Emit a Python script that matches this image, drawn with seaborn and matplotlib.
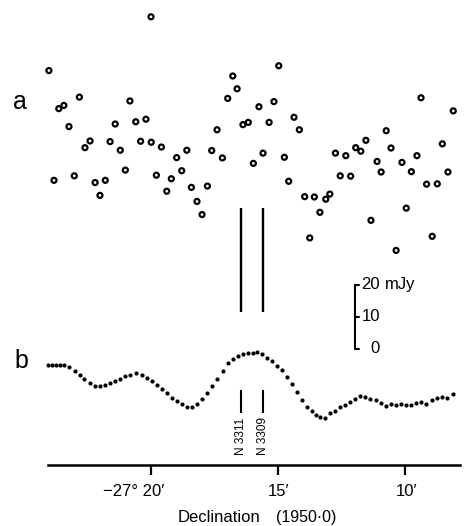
import numpy as np
import pandas as pd
import matplotlib
matplotlib.use("Agg")
import matplotlib.pyplot as plt
import seaborn as sns

# ---------------- data (declination offset in arcmin from -27 deg, flux in mJy) -------------
dec_a = [-24.02, -23.82, -23.63, -23.43, -23.23, -23.02, -22.82, -22.60, -22.40, -22.20,
         -22.01, -21.80, -21.61, -21.41, -21.21, -21.01, -20.83, -20.60, -20.41, -20.20,
         -20.00, -19.99, -19.79, -19.59, -19.38, -19.20, -18.99, -18.79, -18.59, -18.41,
         -18.19, -17.99, -17.78, -17.61, -17.40, -17.19, -16.98, -16.78, -16.61, -16.38,
         -16.17, -15.97, -15.75, -15.59, -15.35, -15.16, -14.97, -14.75, -14.58, -14.37,
         -14.16, -13.95, -13.75, -13.57, -13.35, -13.12, -12.96, -12.74, -12.55, -12.33,
         -12.14, -11.94, -11.74, -11.54, -11.34, -11.10, -10.94, -10.74, -10.55, -10.35,
         -10.12, -9.95, -9.75, -9.53, -9.37, -9.15, -8.93, -8.73, -8.53, -8.31, -8.10]
flux_a = [59.2, 24.9, 47.3, 48.3, 41.7, 26.3, 50.9, 35.1, 37.2, 24.2,
          20.2, 24.9, 37.0, 42.5, 34.3, 28.1, 49.7, 43.2, 37.1, 44.0,
          76.0, 36.8, 26.5, 35.3, 21.5, 25.4, 32.0, 27.9, 34.3, 22.7,
          18.3, 14.2, 23.1, 34.2, 40.7, 31.9, 50.5, 57.5, 53.5, 42.3,
          43.0, 30.2, 47.9, 33.4, 43.0, 49.5, 60.7, 32.1, 24.6, 44.6,
          40.7, 19.8, 6.9, 19.7, 14.9, 19.0, 20.6, 33.4, 26.3, 32.6,
          26.2, 35.1, 34.0, 37.4, 12.4, 30.8, 27.5, 40.4, 35.0, 3.0,
          30.5, 16.2, 27.6, 32.6, 50.7, 23.7, 7.4, 23.8, 36.3, 27.5, 46.6]

dec_b = [-24.06, -23.90, -23.74, -23.58, -23.43, -23.22, -23.00, -22.81, -22.63, -22.40,
         -22.20, -22.01, -21.82, -21.61, -21.42, -21.22, -21.01, -20.81, -20.59, -20.37,
         -20.17, -19.97, -19.78, -19.58, -19.38, -19.17, -18.99, -18.78, -18.57, -18.39,
         -18.20, -18.00, -17.81, -17.60, -17.39, -17.18, -16.96, -16.76, -16.56, -16.37,
         -16.17, -16.00, -15.81, -15.63, -15.43, -15.24, -15.04, -14.84, -14.65, -14.45,
         -14.25, -14.06, -13.86, -13.66, -13.50, -13.35, -13.15, -12.95, -12.76, -12.56,
         -12.36, -12.17, -11.97, -11.77, -11.57, -11.38, -11.14, -10.94, -10.76, -10.56,
         -10.35, -10.16, -9.96, -9.76, -9.57, -9.37, -9.17, -8.95, -8.75, -8.56, -8.33, -8.12]
flux_b = [17.2, 17.1, 17.1, 17.2, 17.2, 16.5, 15.4, 14.1, 12.9, 11.5,
          10.6, 10.6, 10.8, 11.5, 12.2, 12.7, 13.8, 14.0, 14.8, 14.0,
          13.2, 12.2, 10.8, 9.7, 8.4, 6.8, 6.0, 5.1, 4.2, 4.0,
          4.9, 6.5, 8.3, 10.6, 12.8, 15.3, 17.7, 19.0, 20.0, 20.6,
          21.0, 21.0, 21.2, 20.5, 19.5, 18.3, 17.0, 15.6, 13.4, 11.3,
          8.8, 6.3, 4.2, 2.8, 1.6, 0.8, 0.6, 2.1, 2.9, 4.0,
          4.8, 5.7, 6.5, 7.5, 7.3, 6.5, 6.3, 5.4, 4.5, 4.9,
          4.8, 4.9, 4.6, 4.7, 5.2, 5.6, 5.0, 6.3, 6.8, 7.1, 7.0, 8.0]

galaxies = ["N 3311", "N 3309"]
galaxy_dec = [-16.46, -15.59]

tick_pos = [-20, -15, -10]
tick_labels = ["\u221227\u00b0 20\u2032", "15\u2032", "10\u2032"]
scale_values = [0, 10, 20]

# ---------------- layout constants ----------------
OFFSET_A = 27.81     # vertical placement of panel a (mJy units)
OFFSET_B = -22.19    # vertical placement of panel b

sns.set_theme(style="white")
plt.rcParams["font.family"] = ["Liberation Sans", "DejaVu Sans"]
plt.rcParams["text.color"] = "black"

fig = plt.figure(figsize=(4.67, 5.26), dpi=100)
ax = fig.add_axes([48 / 467, 61 / 526, 412 / 467, 465 / 526])
ax.set_xlim(-24.055, -7.835)
ax.set_ylim(-36.25, 109.06)
ax.patch.set_alpha(0)

df_a = pd.DataFrame({"dec": dec_a, "flux": np.array(flux_a) + OFFSET_A})
df_b = pd.DataFrame({"dec": dec_b, "flux": np.array(flux_b) + OFFSET_B})

sns.scatterplot(data=df_a, x="dec", y="flux", ax=ax, s=13, marker="o",
                facecolor="none", edgecolor="black", linewidth=1.6, clip_on=False)
sns.scatterplot(data=df_b, x="dec", y="flux", ax=ax, s=9, marker="o",
                color="black", linewidth=0, clip_on=False)

# galaxy position markers
for name, d in zip(galaxies, galaxy_dec):
    ax.plot([d, d], [11.56, 44.06], color="black", lw=1.7, solid_capstyle="butt")
    ax.plot([d, d], [-12.8, -20.0], color="black", lw=1.5, solid_capstyle="butt")
    ax.text(d, -21.4, name, rotation=90, ha="center", va="top", fontsize=8.5,
            color="black")

# flux scale bar
xs = -11.97
ax.plot([xs, xs], [0, 20], color="black", lw=1.5)
for v in scale_values:
    ax.plot([xs, xs + 0.17], [v, v], color="black", lw=1.5)
    ax.text(-10.98, v, str(v), ha="right", va="center", fontsize=12, color="black")
ax.text(-10.78, 20, "mJy", ha="left", va="center", fontsize=12, color="black")

# panel letters
ax.text(-25.16, 77.2, "a", ha="center", va="center", fontsize=18, color="black")
ax.text(-25.12, -3.9, "b", ha="center", va="center", fontsize=18, color="black")

# axis styling
for side in ["left", "right", "top"]:
    ax.spines[side].set_visible(False)
ax.spines["bottom"].set_linewidth(1.8)
ax.spines["bottom"].set_color("black")
ax.set_xticks(tick_pos)
ax.set_xticklabels([])
ax.set_yticks([])
ax.tick_params(axis="x", direction="out", length=7.2, width=1.6, color="black", bottom=True)
ax.set_xlabel("")
ax.set_ylabel("")

label_x = [-20.67, -14.96, -9.94]
for lx, lab in zip(label_x, tick_labels):
    ax.text(lx, -44.4, lab, ha="center", va="center", fontsize=12, color="black")

ax.text(-17.34, -52.5, "Declination", ha="center", va="center", fontsize=12, color="black")
ax.text(-13.90, -52.5, "(1950\u00b70)", ha="center", va="center", fontsize=11.5, color="black")

fig.savefig("out.png", dpi=100)
